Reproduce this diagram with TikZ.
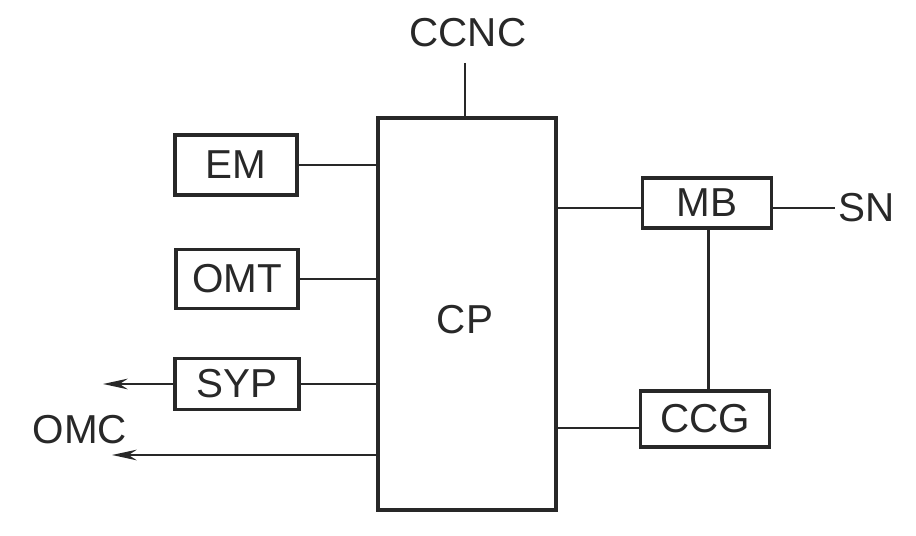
\documentclass[tikz,border=0pt]{standalone}
\usepackage{fontspec}
\setmainfont{Liberation Sans}
\usepackage{tikz}
\usetikzlibrary{arrows.meta, positioning, calc}
\definecolor{ink}{RGB}{40,40,40}

\begin{document}
\begin{tikzpicture}[x=0.02cm, y=-0.02cm,
  every node/.style={font=\fontsize{23}{27}\selectfont, text=ink},
  unit/.style={draw=ink, line width=2.2pt, inner sep=0pt},
  wire/.style={draw=ink, line width=1.7pt},
  outwire/.style={wire, -{Stealth[length=14pt, width=6pt]}}]
  \useasboundingbox (0,0) rectangle (916,536);

  % central processor
  \node[unit, minimum width=3.56cm, minimum height=7.84cm] (cp) at (467,314) {};
  \node (cplab) at (465,320) {CP};

  % left units
  \node[unit, minimum width=2.44cm, minimum height=1.2cm] (em) at (236,165) {EM};
  \node[unit, minimum width=2.44cm, minimum height=1.18cm] (omt) at (237,279) {OMT};
  \node[unit, minimum width=2.48cm, minimum height=1.02cm] (syp) at (237,384) {SYP};

  % right units
  \node[unit, minimum width=2.58cm, minimum height=1.0cm] (mb) at (707,203) {MB};
  \node[unit, minimum width=2.58cm, minimum height=1.12cm] (ccg) at (705,419) {CCG};

  % labels
  \node (ccnc) at (468,33) {CCNC};
  \node[anchor=west, inner sep=0pt] (sn) at (838,208) {SN};
  \node (omc) at (80,430) {OMC};
  \coordinate (ccnctop) at (465,63);
  \coordinate (snend) at (835,208);
  \coordinate (sypend) at (103,384);
  \coordinate (omcend) at (112,455);
  \coordinate (omcstart) at (378,455);

  % connections
  \draw[wire] (ccnctop) -- (ccnctop |- cp.north);
  \draw[wire] (em.east) -- (em.east -| cp.west);
  \draw[wire] (omt.east) -- (omt.east -| cp.west);
  \draw[wire] (syp.east) -- (syp.east -| cp.west);
  \draw[outwire] (syp.west) -- (sypend);
  \draw[outwire] (omcstart) -- (omcend);
  \draw[wire] (cp.east |- snend) -- (mb.west |- snend);
  \draw[wire] (mb.east |- snend) -- (snend);
  \draw[wire] (mb.south -| 708,0) -- (ccg.north -| 708,0);
  \draw[wire] (cp.east |- 0,428) -- (ccg.west |- 0,428);
\end{tikzpicture}
\end{document}
